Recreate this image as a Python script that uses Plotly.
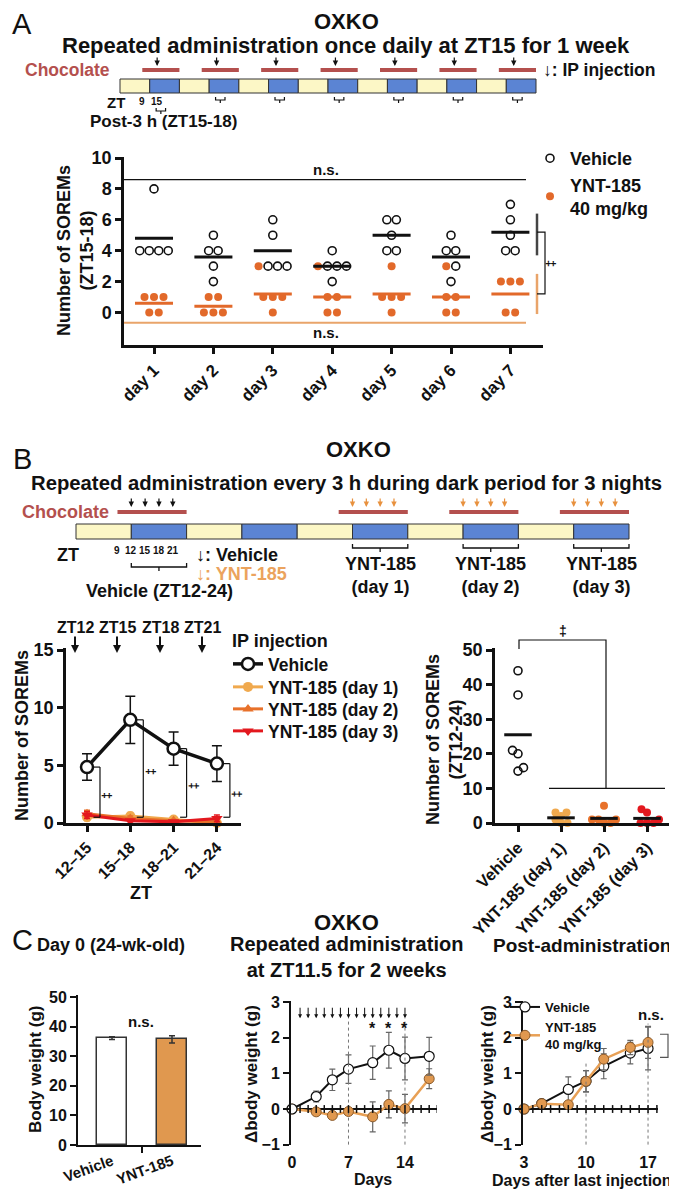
import plotly.graph_objects as go

W, H = 677, 1190
FONT = "Liberation Sans, Arial, Helvetica, sans-serif"
BLACK = "#111111"
ORANGE_A = "#e2692a"
ORANGE_LINE = "#e9a46a"
CHOC = "#b4504e"
YELLOW = "#fcf7c6"
BLUE = "#5b84d3"
D1 = "#f0a94e"
D2 = "#e8712a"
D3 = "#e3181e"
C_ORANGE = "#e0984f"

# ---------------- DATA ----------------
# Panel A: SOREMs (ZT15-18) per day, individual animals
days_A = ["day 1", "day 2", "day 3", "day 4", "day 5", "day 6", "day 7"]
vehicle_A = [[8, 4, 4, 4, 4], [5, 4, 4, 3, 2], [6, 5, 3, 3, 3], [4, 3, 3, 3, 2],
             [6, 6, 5, 4, 4], [5, 4, 4, 3, 2], [7, 6, 5, 4, 4]]
ynt_A = [[1, 1, 1, 0, 0], [1, 1, 0, 0, 0], [3, 1, 1, 1, 0], [3, 1, 1, 0, 0],
         [3, 1, 1, 1, 0], [3, 1, 1, 0, 0], [2, 2, 2, 0, 0]]

# Panel B (left): SOREMs per 3-h bin
zt_bins = ["12–15", "15–18", "18–21", "21–24"]
veh_B = [4.85, 8.95, 6.45, 5.15]
veh_B_sem = [1.15, 2.05, 1.45, 1.55]
ynt_B_d1 = [0.5, 0.6, 0.3, 0.0]
ynt_B_d1_sem = [0.3, 0.3, 0.2, 0.0]
ynt_B_d2 = [0.8, 0.4, 0.2, 0.1]
ynt_B_d2_sem = [0.3, 0.2, 0.1, 0.1]
ynt_B_d3 = [0.7, 0.2, 0.1, 0.4]
ynt_B_d3_sem = [0.3, 0.1, 0.1, 0.3]

# Panel B (right): SOREMs ZT12-24 per animal
groups_B = ["Vehicle", "YNT-185 (day 1)", "YNT-185 (day 2)", "YNT-185 (day 3)"]
sorem_B = [[44, 37, 21, 20, 16, 15], [3, 3, 2, 1, 0, 0],
           [5, 1, 1, 1, 0, 0], [4, 3, 1, 0, 0, 0]]

# Panel C (left): body weight day 0
bw_groups = ["Vehicle", "YNT-185"]
bw_mean = [36.1, 35.7]
bw_sem = [0.5, 1.2]

# Panel C (middle): delta body weight during administration
days_C1 = [0, 3, 5, 7, 10, 12, 14, 17]
veh_C1 = [0, 0.35, 0.82, 1.12, 1.30, 1.65, 1.42, 1.48]
veh_C1_sem = [0, 0.15, 0.30, 0.40, 0.47, 0.50, 0.60, 0.53]
ynt_C1 = [0, -0.08, -0.18, -0.07, -0.22, 0.13, 0.01, 0.85]
ynt_C1_sem = [0, 0.05, 0.05, 0.05, 0.42, 0.38, 0.40, 0.28]
injection_days = list(range(1, 15))
sig_days = [10, 12, 14]

# Panel C (right): delta body weight post-administration
days_C2 = [3, 5, 8, 10, 12, 15, 17]
veh_C2 = [0, 0.15, 0.55, 0.78, 1.20, 1.57, 1.70]
veh_C2_sem = [0, 0.05, 0.35, 0.30, 0.35, 0.30, 0.60]
ynt_C2 = [0, 0.15, 0.12, 0.78, 1.40, 1.73, 1.87]
ynt_C2_sem = [0, 0.05, 0.05, 0.30, 0.30, 0.20, 0.45]


# ---------------- helpers ----------------
def X(px):
    return px / W


def Y(py):
    return 1 - py / H


shapes = []
annotations = []


def fnt(size, color=BLACK, bold=True, family=FONT):
    return dict(family=family, size=size, color=color, weight="bold" if bold else "normal")


def line(x0, y0, x1, y1, color=BLACK, width=1.5, dash=None):
    shapes.append(dict(type="line", xref="paper", yref="paper", x0=X(x0), y0=Y(y0),
                       x1=X(x1), y1=Y(y1), line=dict(color=color, width=width, dash=dash)))


def rect(x0, y0, x1, y1, fill, lc="#333333", lw=1):
    shapes.append(dict(type="rect", xref="paper", yref="paper", x0=X(x0), y0=Y(y0),
                       x1=X(x1), y1=Y(y1), fillcolor=fill, line=dict(color=lc, width=lw)))


def path(polys, color=BLACK, width=1.3):
    d = ""
    for pts in polys:
        d += "M" + " L".join(f"{X(x):.5f},{Y(y):.5f}" for x, y in pts) + " "
    shapes.append(dict(type="path", xref="paper", yref="paper", path=d.strip(),
                       line=dict(color=color, width=width)))


def text(x, y, s, size=18, color=BLACK, bold=True, xanchor="center", angle=0):
    annotations.append(dict(xref="paper", yref="paper", x=X(x), y=Y(y), text=s,
                            showarrow=False, xanchor=xanchor, yanchor="middle",
                            textangle=angle, font=fnt(size, color, bold)))


def arrow(x, y0, y1, color=BLACK, width=1.3, size=1.0):
    annotations.append(dict(xref="paper", yref="paper", x=X(x), y=Y(y1), ax=0, ay=-(y1 - y0),
                            text="", showarrow=True, arrowhead=2, arrowsize=size,
                            arrowwidth=width, arrowcolor=color, standoff=0, startstandoff=0))


def rng(lo_px, hi_px, p0, v0, s, vertical=False):
    if vertical:
        return [v0 + (p0 - lo_px) / s, v0 + (p0 - hi_px) / s]
    return [v0 + (lo_px - p0) / s, v0 + (hi_px - p0) / s]


def axis_style(**kw):
    base = dict(showline=True, linewidth=2.5, linecolor=BLACK, ticks="outside", tickwidth=2.5,
                ticklen=6, tickcolor=BLACK, showgrid=False, zeroline=False, fixedrange=True,
                automargin=False, tickfont=fnt(17))
    base.update(kw)
    return base


def rows_offsets(vals, spacing_px, cat_px):
    off = [0.0] * len(vals)
    groups = {}
    for k, v in enumerate(vals):
        groups.setdefault(v, []).append(k)
    for ks in groups.values():
        n = len(ks)
        for j, k in enumerate(ks):
            off[k] = (j - (n - 1) / 2) * spacing_px / cat_px
    return off


def swarm_offsets(vals, unit_px, d_px, cat_px):
    order = sorted(range(len(vals)), key=lambda k: vals[k])
    placed = []
    off = [0.0] * len(vals)
    flip = 1
    for k in order:
        yk = vals[k] * unit_px
        forb = []
        for (xp, yp) in placed:
            dy = abs(yk - yp)
            if dy < d_px:
                h = (d_px ** 2 - dy ** 2) ** 0.5
                forb.append((xp - h, xp + h))
        cands = [0.0] + [a for a, b in forb] + [b for a, b in forb]
        ok = [c for c in cands if all(not (a + 1e-6 < c < b - 1e-6) for a, b in forb)]
        best = min(ok, key=lambda c: (round(abs(c), 4), -flip * c))
        if abs(best) > 1e-6:
            flip = -flip
        placed.append((best, yk))
        off[k] = best / cat_px
    return off


# pixel geometry of plot areas (layout only)
A_P0, A_S, A_CAT = 304.5, 15.45, 59.4
BL_P0, BL_S = 815, 11.53
BS_S = 3.46
CB_P0, CB_S = 1137, 2.96
CL_P0, CL_S = 1101, 35.6


def A_py(v):
    return A_P0 - v * A_S


traces = []

# ---------------- Panel A ----------------
ax_v, ay_v, ax_y, ay_y = [], [], [], []
mv_x, mv_y, my_x, my_y = [], [], [], []
for i, (vv, yy) in enumerate(zip(vehicle_A, ynt_A)):
    vals = yy + vv
    off = rows_offsets(vals, 9.5, A_CAT)
    for k, v in enumerate(vals):
        if k < len(yy):
            ax_y.append(i + 1 + off[k]); ay_y.append(v)
        else:
            ax_v.append(i + 1 + off[k]); ay_v.append(v)
    m_v = sum(vv) / len(vv)
    m_y = sum(yy) / len(yy)
    mv_x += [i + 1 - 0.32, i + 1 + 0.32, None]; mv_y += [m_v, m_v, None]
    my_x += [i + 1 - 0.32, i + 1 + 0.32, None]; my_y += [m_y, m_y, None]

traces.append(go.Scatter(x=ax_v, y=ay_v, mode="markers", name="Vehicle", legend="legend",
                         marker=dict(symbol="circle-open", size=8, color=BLACK, line=dict(width=1.6)),
                         xaxis="x", yaxis="y", cliponaxis=False))
traces.append(go.Scatter(x=ax_y, y=ay_y, mode="markers", name="YNT-185<br>40 mg/kg", legend="legend",
                         marker=dict(symbol="circle", size=8, color=ORANGE_A),
                         xaxis="x", yaxis="y", cliponaxis=False))
traces.append(go.Scatter(x=mv_x, y=mv_y, mode="lines", line=dict(color=BLACK, width=3),
                         showlegend=False, xaxis="x", yaxis="y", hoverinfo="skip"))
traces.append(go.Scatter(x=my_x, y=my_y, mode="lines", line=dict(color=ORANGE_A, width=3),
                         showlegend=False, xaxis="x", yaxis="y", hoverinfo="skip"))

# ---------------- Panel B line ----------------
xb = [1, 2, 3, 4]
traces.append(go.Scatter(x=xb, y=veh_B, mode="lines+markers", name="Vehicle", legend="legend2",
                         line=dict(color=BLACK, width=3.5),
                         marker=dict(symbol="circle", size=12, color="white", line=dict(color=BLACK, width=2.5)),
                         error_y=dict(type="data", array=veh_B_sem, color=BLACK, thickness=1.5, width=5),
                         xaxis="x2", yaxis="y2", cliponaxis=False))
for nm, vals, sem, col, sym, lg in [("YNT-185 (day 1)", ynt_B_d1, ynt_B_d1_sem, D1, "circle", "legend4"),
                                    ("YNT-185 (day 2)", ynt_B_d2, ynt_B_d2_sem, D2, "triangle-up", "legend5"),
                                    ("YNT-185 (day 3)", ynt_B_d3, ynt_B_d3_sem, D3, "triangle-down", "legend6")]:
    traces.append(go.Scatter(x=xb, y=vals, mode="lines+markers", name=nm, legend=lg,
                             line=dict(color=col, width=3),
                             marker=dict(symbol=sym, size=10, color=col),
                             error_y=dict(type="data", array=sem, color=col, thickness=1.5, width=3),
                             xaxis="x2", yaxis="y2", cliponaxis=False))

# ---------------- Panel B scatter ----------------
colsB = [BLACK, D1, D2, D3]
mb_x, mb_y = [], []
for i, (vals, col) in enumerate(zip(sorem_B, colsB)):
    off = swarm_offsets(vals, BS_S, 6.5, 43)
    traces.append(go.Scatter(x=[i + 1 + o for o in off], y=vals, mode="markers", showlegend=False,
                             marker=dict(symbol="circle-open" if i == 0 else "circle", size=8, color=col,
                                         line=dict(width=1.6) if i == 0 else None),
                             xaxis="x3", yaxis="y3", cliponaxis=False))
    m = sum(vals) / len(vals)
    mb_x += [i + 1 - 0.32, i + 1 + 0.32, None]; mb_y += [m, m, None]
traces.append(go.Scatter(x=mb_x, y=mb_y, mode="lines", line=dict(color=BLACK, width=3),
                         showlegend=False, xaxis="x3", yaxis="y3", hoverinfo="skip", cliponaxis=False))

# ---------------- Panel C bar ----------------
traces.append(go.Bar(x=[1, 2], y=bw_mean, width=0.5, showlegend=False,
                     marker=dict(color=["white", C_ORANGE], line=dict(color="#333333", width=1.5)),
                     error_y=dict(type="data", array=bw_sem, color="#333333", thickness=1.5, width=3),
                     xaxis="x4", yaxis="y4"))

# ---------------- Panel C middle ----------------
traces.append(go.Scatter(x=days_C1, y=ynt_C1, mode="lines+markers", showlegend=False,
                         line=dict(color="#e8a055", width=2.5),
                         marker=dict(size=10, color=C_ORANGE, line=dict(color="#8a5a2a", width=1)),
                         error_y=dict(type="data", array=ynt_C1_sem, color="#666666", thickness=1.2, width=3),
                         xaxis="x5", yaxis="y5", cliponaxis=False))
traces.append(go.Scatter(x=days_C1, y=veh_C1, mode="lines+markers", showlegend=False,
                         line=dict(color=BLACK, width=2),
                         marker=dict(size=10, color="white", line=dict(color=BLACK, width=1.2)),
                         error_y=dict(type="data", array=veh_C1_sem, color="#666666", thickness=1.2, width=3),
                         xaxis="x5", yaxis="y5", cliponaxis=False))

# ---------------- Panel C right ----------------
traces.append(go.Scatter(x=days_C2, y=veh_C2, mode="lines+markers", name="Vehicle", legend="legend3",
                         line=dict(color=BLACK, width=2),
                         marker=dict(size=10, color="white", line=dict(color=BLACK, width=1.2)),
                         error_y=dict(type="data", array=veh_C2_sem, color="#666666", thickness=1.2, width=3),
                         xaxis="x6", yaxis="y6", cliponaxis=False))
traces.append(go.Scatter(x=days_C2, y=ynt_C2, mode="lines+markers", name="YNT-185<br>40 mg/kg",
                         legend="legend3",
                         line=dict(color="#e8a055", width=2.5),
                         marker=dict(size=10, color=C_ORANGE, line=dict(color="#8a5a2a", width=1)),
                         error_y=dict(type="data", array=ynt_C2_sem, color="#666666", thickness=1.2, width=3),
                         xaxis="x6", yaxis="y6", cliponaxis=False))

fig = go.Figure(traces)

# ---------------- axes ----------------
layout_axes = dict(
    xaxis=axis_style(domain=[X(116), X(535)], range=rng(116, 535, 146, 1, A_CAT), anchor="y",
                     tickvals=list(range(1, 8)), ticktext=days_A, tickangle=-45, tickfont=fnt(17)),
    yaxis=axis_style(domain=[Y(337), Y(148.5)], range=rng(337, 148.5, A_P0, 0, A_S, True), anchor="x",
                     tickvals=[0, 2, 4, 6, 8, 10], tickfont=fnt(18)),
    xaxis2=axis_style(domain=[X(58), X(233)], range=rng(58, 233, 79, 1, 43.3), anchor="y2",
                      tickvals=xb, ticktext=zt_bins, tickangle=-45, tickfont=fnt(16)),
    yaxis2=axis_style(domain=[Y(BL_P0), Y(640)], range=rng(BL_P0, 640, BL_P0, 0, BL_S, True), anchor="x2",
                      tickvals=[0, 5, 10, 15], tickfont=fnt(18)),
    xaxis3=axis_style(domain=[X(487), X(663)], range=rng(487, 663, 510, 1, 43), anchor="y3",
                      tickvals=[1, 2, 3, 4], ticktext=groups_B, tickangle=-45, tickfont=fnt(16.5)),
    yaxis3=axis_style(domain=[Y(BL_P0), Y(640)], range=rng(BL_P0, 640, BL_P0, 0, BS_S, True), anchor="x3",
                      tickvals=[0, 10, 20, 30, 40, 50], tickfont=fnt(18)),
    xaxis4=axis_style(domain=[X(70), X(193)], range=rng(70, 193, 104, 1, 60), anchor="y4",
                      tickvals=[1, 2], ticktext=bw_groups, tickangle=-20, ticks="", linewidth=2,
                      minor=dict(tickvals=[1.5], ticks="outside", ticklen=6, tickwidth=2, tickcolor=BLACK),
                      tickfont=fnt(15)),
    yaxis4=axis_style(domain=[Y(CB_P0), Y(987)], range=rng(CB_P0, 987, CB_P0, 0, CB_S, True), anchor="x4",
                      tickvals=[0, 10, 20, 30, 40, 50], linewidth=2, tickwidth=2, tickfont=fnt(16)),
    xaxis5=axis_style(domain=[X(283), X(429)], range=rng(283, 429, 284, 0, 8.07), anchor="y5",
                      tickvals=[0, 7, 14], showline=False, ticks="", ticklabelstandoff=6, tickfont=fnt(16)),
    yaxis5=axis_style(domain=[Y(1137), Y(993)], range=rng(1137, 993, CL_P0, 0, CL_S, True), anchor="x5",
                      tickvals=[-1, 0, 1, 2, 3], zeroline=True, zerolinecolor=BLACK, zerolinewidth=2,
                      linewidth=2, tickwidth=2, tickfont=fnt(16)),
    xaxis6=axis_style(domain=[X(515), X(650)], range=rng(515, 650, 516, 3, 8.86), anchor="y6",
                      tickvals=[3, 10, 17], showline=False, ticks="", ticklabelstandoff=6, tickfont=fnt(16)),
    yaxis6=axis_style(domain=[Y(1137), Y(993)], range=rng(1137, 993, CL_P0, 0, CL_S, True), anchor="x6",
                      tickvals=[-1, 0, 1, 2, 3], zeroline=True, zerolinecolor=BLACK, zerolinewidth=2,
                      linewidth=2, tickwidth=2, tickfont=fnt(16)),
)

# ---------------- Panel A schematic ----------------
text(14, 16, "A", 29, bold=False)
text(338, 14, "OXKO", 22)
text(338, 37, "Repeated administration once daily at ZT15 for 1 week", 22)
A_x0, A_seg = 112, 416 / 14
A_h = A_seg / 12
for k in range(14):
    rect(A_x0 + k * A_seg, 71, A_x0 + (k + 1) * A_seg, 85, YELLOW if k % 2 == 0 else BLUE)
for d in range(7):
    base = A_x0 + 2 * d * A_seg
    line(base + 9 * A_h, 62, base + 24 * A_h, 62, CHOC, 4)
    arrow(base + 15 * A_h, 48, 58, width=1.2, size=0.9)
    bx0, bx1 = base + 15 * A_h, base + 18 * A_h
    by = 100 if d == 0 else 89
    path([[(bx0 - 1, by), (bx0 - 1, by + 3), (bx1 + 1, by + 3), (bx1 + 1, by)],
          [((bx0 + bx1) / 2, by + 3), ((bx0 + bx1) / 2, by + 6)]], BLACK, 1.2)
text(104, 62, "Chocolate", 17.5, CHOC, xanchor="right")
text(533, 62, "↓: IP injection", 17.5, xanchor="left")
text(108, 95, "ZT", 15)
text(A_x0 + 9 * A_h, 94, "9", 10)
text(A_x0 + 15 * A_h, 94, "15", 10)
text(155, 114, "Post-3 h (ZT15-18)", 17)

# Panel A plot extras
text(68, 243, "Number of SOREMs<br>(ZT15-18)", 18, angle=-90)
line(116, A_py(8.6), 518, A_py(8.6), BLACK, 1.3)
text(318, A_py(9.25), "n.s.", 15)
line(116, A_py(-0.66), 518, A_py(-0.66), ORANGE_LINE, 2)
text(318, A_py(-1.32), "n.s.", 15)
line(529, A_py(6.4), 529, A_py(3.7), "#444444", 2.5)
line(529, A_py(2.5), 529, A_py(-0.1), ORANGE_LINE, 2.5)
m7v = sum(vehicle_A[-1]) / len(vehicle_A[-1])
m7y = sum(ynt_A[-1]) / len(ynt_A[-1])
path([[(529, A_py(m7v)), (537, A_py(m7v)), (537, A_py(m7y)), (529, A_py(m7y))]], BLACK, 1.2)
text(544, A_py((m7v + m7y) / 2), "‡", 13, angle=90)

# ---------------- Panel B schematic ----------------
text(14, 451, "B", 29, bold=False)
text(350, 441, "OXKO", 22)
text(338, 475, "Repeated administration every 3 h during dark period for 3 nights", 20.3)
B_x0, B_seg = 68, 55.3
B_h = B_seg / 12
BY = 19  # vertical offset of B schematic
for k in range(10):
    rect(B_x0 + k * B_seg, 497 + BY, B_x0 + (k + 1) * B_seg, 512 + BY, YELLOW if k % 2 == 0 else BLUE)
inj_zt = [0, 3, 6, 9]
for n, col in [(0, BLACK), (2, "#e8913e"), (3, "#e8913e"), (4, "#e8913e")]:
    bs = B_x0 + (2 * n + 1) * B_seg
    line(bs - 3 * B_h, 485 + BY, bs + 12 * B_h, 485 + BY, CHOC, 4)
    for z in inj_zt:
        arrow(bs + z * B_h, 470 + BY, 480 + BY, col, 1.2, 0.9)
    if n == 0:
        path([[(bs, 536 + BY), (bs, 540 + BY), (bs + B_seg, 540 + BY), (bs + B_seg, 536 + BY)],
              [(bs + B_seg / 2, 540 + BY), (bs + B_seg / 2, 544 + BY)]], BLACK, 1.3)
        for z, lab in zip([-3, 0, 3, 6, 9], ["9", "12", "15", "18", "21"]):
            text(bs + z * B_h, 524 + BY, lab, 10)
    else:
        path([[(bs, 517 + BY), (bs, 521 + BY), (bs + B_seg, 521 + BY), (bs + B_seg, 517 + BY)],
              [(bs + B_seg / 2, 521 + BY), (bs + B_seg / 2, 525 + BY)]], BLACK, 1.3)
        text(bs + B_seg / 2, 567, f"YNT-185<br>(day {n - 1})", 18)
text(103, 485 + BY, "Chocolate", 18, CHOC, xanchor="right")
text(60, 528 + BY, "ZT", 18)
text(186, 528 + BY, "↓: Vehicle", 18, xanchor="left")
text(186, 547 + BY, "↓: YNT-185", 18, "#eba35d", xanchor="left")
text(151, 583, "Vehicle (ZT12-24)", 18)

# Panel B line extras
for xp, lab in zip([67, 109, 152, 194], ["ZT12", "ZT15", "ZT18", "ZT21"]):
    text(xp, 619, lab, 16)
    arrow(xp, 627, 645, BLACK, 2, 0.8)
text(222, 633, "IP injection", 18, xanchor="left")
text(14, 728, "Number of SOREMs", 18, angle=-90)
text(133, 885, "ZT", 18)
for i, m in enumerate(veh_B):
    xbk = i + 1 + 0.30
    for (x0, y0, x1, y1) in [(xbk, m, xbk, 0.5), (xbk - 0.15, m, xbk, m), (xbk - 0.15, 0.5, xbk, 0.5)]:
        shapes.append(dict(type="line", xref="x2", yref="y2", x0=x0, y0=y0, x1=x1, y1=y1,
                           line=dict(color=BLACK, width=1.2)))
    annotations.append(dict(xref="x2", yref="y2", x=xbk + 0.17, y=(m + 0.5) / 2 - 0.3, text="‡",
                            showarrow=False, textangle=90, font=fnt(12)))

# Panel B scatter extras
text(436, 732, "Number of SOREMs<br>(ZT12-24)", 18, angle=-90)
v10 = BL_P0 - 10 * BS_S
path([[(511, 641), (511, 632), (598, 632), (598, v10)], [(541, v10), (657, v10)]], BLACK, 1.2)
text(555, 623, "‡", 14)

# ---------------- Panel C ----------------
text(14, 932, "C", 29, bold=False)
text(338, 914, "OXKO", 22)
text(338, 949, "Repeated administration<br>at ZT11.5 for 2 weeks", 20)
text(103, 937, "Day 0 (24-wk-old)", 18)
text(574, 937, "Post-administration", 19)

text(27, 1062, "Body weight (g)", 17, angle=-90)
text(133, 1013, "n.s.", 15)

text(243, 1066, "Δbody weight (g)", 17, angle=-90)
text(365, 1171, "Days", 16)
for d in injection_days:
    annotations.append(dict(xref="x5", yref="y5", x=d, y=2.55, ax=0, ay=-12, text="", showarrow=True,
                            arrowhead=2, arrowsize=0.8, arrowwidth=1, arrowcolor=BLACK))
for d in sig_days:
    annotations.append(dict(xref="x5", yref="y5", x=d, y=2.25, text="*", showarrow=False, font=fnt(16)))
for d in [7, 14]:
    shapes.append(dict(type="line", xref="x5", yref="y5", x0=d, x1=d, y0=-1, y1=2.55,
                       line=dict(color="#777777", width=1, dash="dot")))
for d in range(1, 19):
    shapes.append(dict(type="line", xref="x5", yref="y5", x0=d, x1=d, y0=-0.11, y1=0.11,
                       line=dict(color=BLACK, width=1.5)))

text(479, 1066, "Δbody weight (g)", 17, angle=-90)
text(574, 1172, "Days after last injection", 16)
for d, top in [(10, 1.35), (17, 2.4)]:
    shapes.append(dict(type="line", xref="x6", yref="y6", x0=d, x1=d, y0=-1, y1=top,
                       line=dict(color="#777777", width=1, dash="dot")))
for d in range(4, 19):
    shapes.append(dict(type="line", xref="x6", yref="y6", x0=d, x1=d, y0=-0.11, y1=0.11,
                       line=dict(color=BLACK, width=1.5)))
annotations.append(dict(xref="x6", yref="y6", x=17.3, y=2.65, text="n.s.", showarrow=False, font=fnt(15)))
shapes.append(dict(type="path", xref="paper", yref="y6",
                   path=f"M{X(652)},2.1 L{X(660)},2.1 L{X(660)},1.45 L{X(652)},1.45",
                   line=dict(color="#555555", width=1.2)))

legB = dict(xanchor="left", yanchor="middle", bgcolor="rgba(0,0,0,0)", font=fnt(17.5), itemwidth=30)
fig.update_layout(
    width=W, height=H, autosize=False,
    margin=dict(l=0, r=0, t=0, b=0),
    paper_bgcolor="white", plot_bgcolor="rgba(0,0,0,0)",
    font=dict(family=FONT, color=BLACK),
    shapes=shapes, annotations=annotations,
    legend=dict(x=X(522), y=Y(132), xanchor="left", yanchor="top", bgcolor="rgba(0,0,0,0)",
                font=fnt(18), tracegroupgap=2, itemwidth=30),
    legend2=dict(x=X(220), y=Y(656), **legB),
    legend4=dict(x=X(220), y=Y(679), **legB),
    legend5=dict(x=X(220), y=Y(701), **legB),
    legend6=dict(x=X(220), y=Y(723), **legB),
    legend3=dict(x=X(497), y=Y(984), xanchor="left", yanchor="top", bgcolor="rgba(0,0,0,0)",
                 font=fnt(13), tracegroupgap=0, itemwidth=30),
    bargap=0,
    **layout_axes,
)

fig.write_html("out.html")
